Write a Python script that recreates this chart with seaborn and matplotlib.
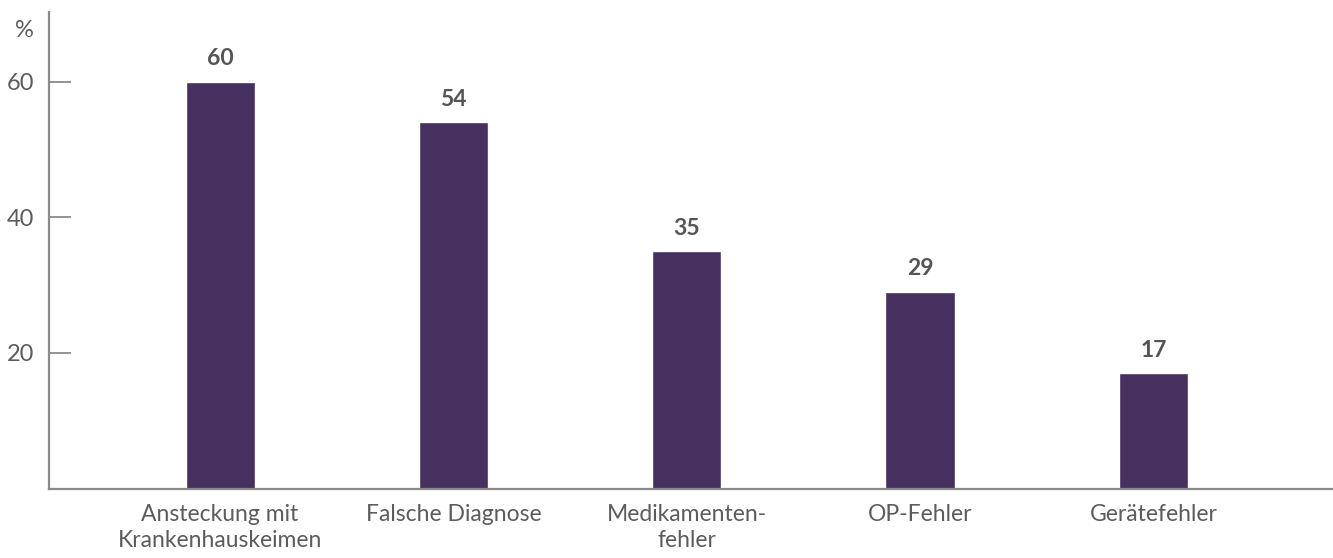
import matplotlib
matplotlib.use("Agg")
import matplotlib.pyplot as plt
import seaborn as sns
import pandas as pd

categories = ["Ansteckung mit\nKrankenhauskeimen", "Falsche Diagnose",
              "Medikamenten-\nfehler", "OP-Fehler", "Gerätefehler"]
values = [60, 54, 35, 29, 17]
yticks = [20, 40, 60]

sns.set_theme(style="white")
plt.rcParams["font.family"] = ["Lato", "DejaVu Sans"]

bar_color = "#46305F"
axis_color = "#8a8a8a"
label_color = "#555555"
tick_text_color = "#5c5c5c"

df = pd.DataFrame({"Kategorie": categories, "Wert": values})

fig = plt.figure(figsize=(13.33, 5.58), dpi=100)
ax = fig.add_axes([0.0368, 0.1245, 0.9632, 0.854])

sns.barplot(data=df, x="Kategorie", y="Wert", color=bar_color,
            width=0.296, saturation=1, ax=ax)

ax.set_xlim(-0.733, 4.77)
ax.set_ylim(0, 70.3)
ax.set_yticks(yticks)
ax.set_yticklabels([str(t) for t in yticks])
ax.set_xlabel("")
ax.set_ylabel("")

for side in ["top", "right"]:
    ax.spines[side].set_visible(False)
for side in ["left", "bottom"]:
    ax.spines[side].set_color(axis_color)
    ax.spines[side].set_linewidth(1.6)

ax.tick_params(axis="y", direction="in", length=16, width=1.3,
               color=axis_color, labelsize=17, labelcolor=tick_text_color, pad=11,
               left=True)
ax.tick_params(axis="x", length=0, labelsize=16.5, labelcolor=tick_text_color, pad=11)
for lbl in ax.get_xticklabels():
    lbl.set_linespacing(1.3)
    lbl.set_verticalalignment("top")

for i, v in enumerate(values):
    ax.annotate(str(v), (i, v), xytext=(0, 9), textcoords="offset points",
                ha="center", va="bottom", fontsize=16.5, fontweight="bold",
                color=label_color)

ax.text(-0.012, 67.5, "%", transform=ax.get_yaxis_transform(), ha="right",
        va="center", fontsize=17, color=tick_text_color)

fig.savefig("out.png", dpi=100)
